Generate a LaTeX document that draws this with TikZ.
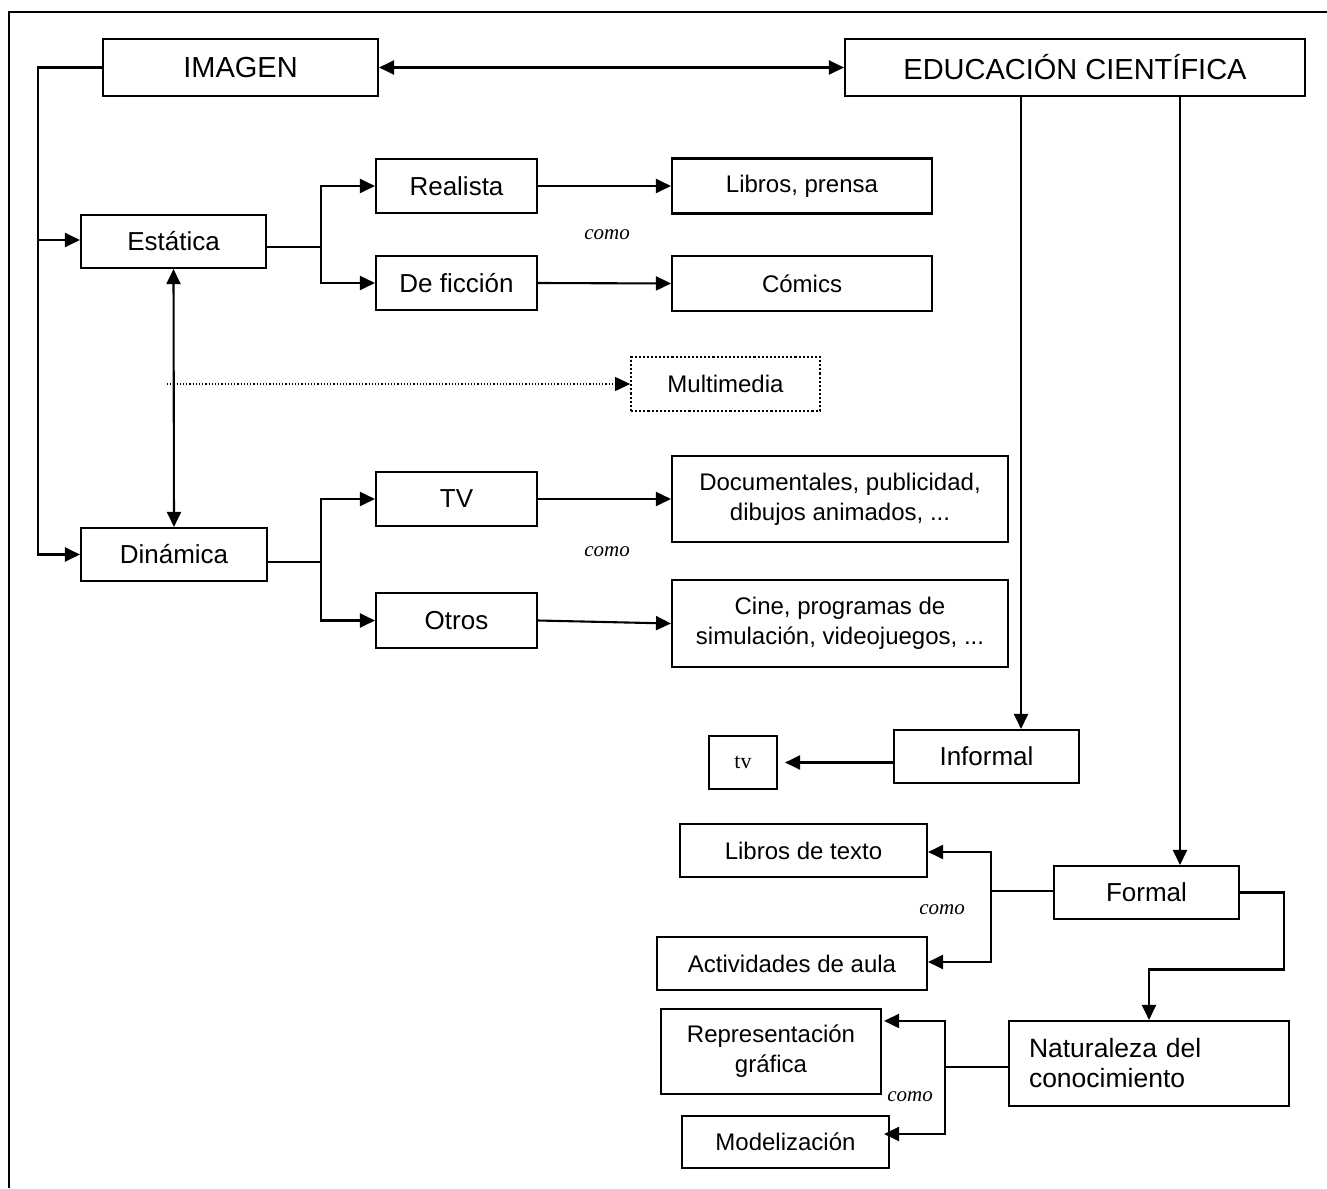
\documentclass[tikz,border=0pt]{standalone}
\usepackage{fontspec}
\setmainfont{Liberation Sans}
\newfontfamily\serifa{Liberation Serif}
\usetikzlibrary{arrows.meta,calc}
\begin{document}
\begin{tikzpicture}[x=1pt,y=-1pt,
  box/.style={draw, line width=2.1pt, inner sep=0pt, align=center},
  fb/.style={font=\fontsize{29}{33}\selectfont},
  fa/.style={font=\fontsize{26}{30}\selectfont},
  fc/.style={font=\fontsize{24}{30}\selectfont},
  conn/.style={line width=2.1pt},
  arr/.style={conn, -{Triangle[length=15pt,width=14pt]}},
  dbl/.style={conn, {Triangle[length=15pt,width=14pt]}-{Triangle[length=15pt,width=14pt]}},
  como/.style={font=\serifa\itshape\fontsize{21}{24}\selectfont}]
\useasboundingbox (0,0) rectangle (1327,1188);
% frame
\draw[line width=2.2pt] (9,1188) -- (9,12) -- (1327,12);

% nodes
\node[box,fb,minimum width=275pt,minimum height=57pt] (img) at (240.5,67.5) {IMAGEN};
\node[box,fb,minimum width=460pt,minimum height=57pt] (edu) at (1075,67.5) {EDUCACIÓN CIENTÍFICA};
\node[box,fa,minimum width=185pt,minimum height=53pt] (est) at (173.5,241.5) {Estática};
\node[box,fa,minimum width=186pt,minimum height=53pt] (din) at (174,554.5) {Dinámica};
\node[box,fa,minimum width=161pt,minimum height=54pt] (rea) at (456.5,186) {Realista};
\node[box,fa,minimum width=161pt,minimum height=54pt] (fic) at (456.5,283) {De ficción};
\node[box,fc,minimum width=260pt,minimum height=55pt] (lib) at (802,186) {Libros, prensa};
\node[box,fc,minimum width=260pt,minimum height=55pt] (com) at (802,283.5) {Cómics};
\node[box,fc,dotted,line width=1.8pt,minimum width=189pt,minimum height=54pt] (mul) at (725.5,384) {Multimedia};
\node[box,fa,minimum width=161pt,minimum height=54pt] (tv) at (456.5,499) {TV};
\node[box,fa,minimum width=161pt,minimum height=55pt] (otr) at (456.5,620.5) {Otros};
\node[box,fc,minimum width=336pt,minimum height=86pt] (doc) at (840,499) {Documentales, publicidad,\\dibujos animados, ...};
\node[box,fc,minimum width=336pt,minimum height=87pt] (cin) at (840,623.5) {Cine, programas de\\simulación, videojuegos, ...};
\node[box,fa,minimum width=185pt,minimum height=53pt] (inf) at (986.5,756.5) {Informal};
\node[box,font=\serifa\fontsize{22}{26}\selectfont,minimum width=68pt,minimum height=53pt] (tvs) at (743,762.5) {tv};
\node[box,fc,minimum width=247pt,minimum height=53pt] (ltx) at (803.5,850.5) {Libros de texto};
\node[box,fc,minimum width=270pt,minimum height=53pt] (act) at (792,963.5) {Actividades de aula};
\node[box,fa,minimum width=185pt,minimum height=53pt] (for) at (1146.5,892.5) {Formal};
\node[box,font=\fontsize{26.5}{30}\selectfont,minimum width=280pt,minimum height=85pt,align=left,text width=240pt] (nat) at (1149,1063.5) {Naturaleza del\\conocimiento};
\node[box,fc,minimum width=220pt,minimum height=85pt] (rep) at (771,1051.5) {Representación\\gráfica};
\node[box,fc,minimum width=207pt,minimum height=52pt] (mod) at (785.5,1142) {Modelización};

% como labels
\node[como] (c1) at (607,235) {como};
\node[como] (c2) at (607,552) {como};
\node[como] (c3) at (942,910) {como};
\node[como] (c4) at (910,1097) {como};

% connectors
\draw[dbl] (img.east) -- (edu.west);
\coordinate (lv) at (39,240);
\draw[arr] (img.west) -- ++(-64,0) |- (din.west);
\draw[arr] (lv) -- (lv -| est.west);
\draw[dbl] (est.south) -- (din.south |- din.north);

\coordinate (dt) at (167,384);
\draw[line width=1.2pt, dotted, -{Triangle[length=15pt,width=14pt]}] (dt) -- (mul.west);

\coordinate (bs) at (321,247);
\draw[conn] (bs -| est.east) -- (bs);
\draw[arr] (bs) |- (rea.west);
\draw[arr] (bs) |- (fic.west);
\draw[arr] (rea.east) -- (lib.west);
\draw[arr] (fic.east) -- (com.west);

\coordinate (bd) at (321,562);
\draw[conn] (bd -| din.east) -- (bd);
\draw[arr] (bd) |- (tv.west);
\draw[arr] (bd) |- (otr.west);
\draw[arr] (tv.east) -- (doc.west);
\draw[arr] (otr.east) -- (cin.west);

\draw[arr] ([xshift=34.5pt]inf.north |- edu.south) -- ([xshift=34.5pt]inf.north);
\draw[arr] ([xshift=33.5pt]for.north |- edu.south) -- ([xshift=33.5pt]for.north);
\draw[arr] (inf.west |- tvs.east) -- ([xshift=7pt]tvs.east);

\coordinate (bf) at (991,891);
\draw[conn] (for.west |- bf) -- (bf);
\draw[arr] (bf) |- ([yshift=-1.5pt]ltx.east);
\draw[arr] (bf) |- ([yshift=1.5pt]act.east);
\draw[arr] (for.east) -- ++(44,0) -- ++(0,77) -| (nat.north);

\coordinate (bn) at (945,1067);
\draw[conn] (nat.west |- bn) -- (bn);
\draw[arr] (bn) |- ([yshift=-13pt,xshift=2pt]rep.north east);
\draw[arr] (bn) |- ([yshift=8pt,xshift=-6pt]mod.east);
\end{tikzpicture}
\end{document}
